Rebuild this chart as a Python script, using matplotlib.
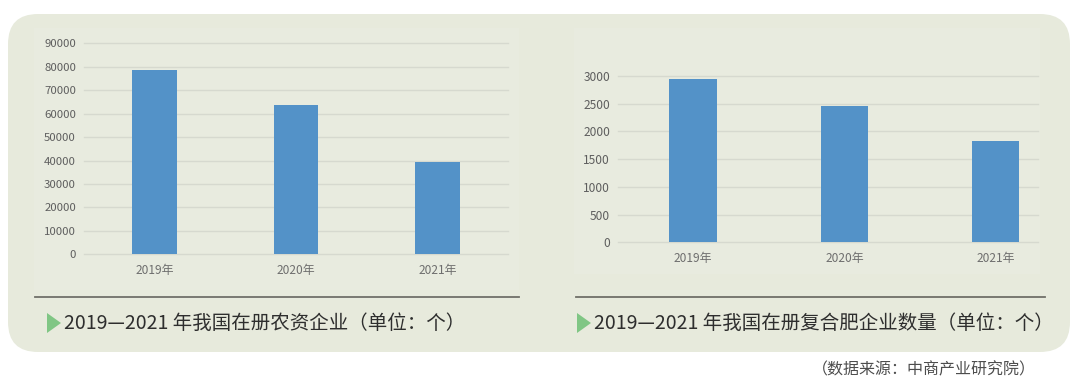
import matplotlib
matplotlib.use("Agg")
import matplotlib.pyplot as plt
from matplotlib.patches import FancyBboxPatch, Polygon, Rectangle
from matplotlib.lines import Line2D
from matplotlib.transforms import IdentityTransform

plt.rcParams['font.family'] = ['Noto Sans CJK SC', 'DejaVu Sans']

# data
years = ['2019年', '2020年', '2021年']
agri_firms = [78600, 63700, 39500]          # 在册农资企业
compound_firms = [2940, 2450, 1830]         # 在册复合肥企业
agri_ticks = [0, 10000, 20000, 30000, 40000, 50000, 60000, 70000, 80000, 90000]
compound_ticks = [0, 500, 1000, 1500, 2000, 2500, 3000]
left_title = '2019—2021 年我国在册农资企业（单位：个）'
right_title = '2019—2021 年我国在册复合肥企业数量（单位：个）'
source_note = '（数据来源：中商产业研究院）'

W, H = 1080, 391
BAR = '#5392C8'
GRID = '#D6D9CF'
PANEL = '#E7EADC'


def fx(x):
    return x / W


def fy(y):
    return 1 - y / H


fig = plt.figure(figsize=(W / 100, H / 100), dpi=100, facecolor='white')

# rounded background card (pixel coords, origin bottom-left)
card = FancyBboxPatch((8, H - 352), 1062, 338,
                      boxstyle='round,pad=0,rounding_size=30',
                      transform=IdentityTransform(),
                      facecolor=PANEL, edgecolor='none', zorder=-2)
fig.add_artist(card)

# faint inner chart panels
for x0, x1, y1 in [(34, 519, 290), (574, 1040, 274)]:
    fig.add_artist(Rectangle((fx(x0), fy(y1)), fx(x1) - fx(x0), fy(28) - fy(y1),
                             transform=fig.transFigure, facecolor='#E8EBDF',
                             edgecolor='none', zorder=-1))


def bar_panel(rect, values, ticks, xmax, tick_size, xpad, ypad):
    ax = fig.add_axes(rect)
    ax.set_zorder(2)
    ax.set_facecolor('none')
    ax.bar(range(len(years)), values, width=0.315, color=BAR, zorder=3)
    ax.set_xlim(-0.5, xmax)
    ax.set_ylim(ticks[0], ticks[-1])
    ax.set_yticks(ticks)
    ax.set_xticks(range(len(years)))
    ax.set_xticklabels(years)
    ax.grid(axis='y', color=GRID, linewidth=1.0, zorder=1)
    for gl in ax.get_ygridlines():
        gl.set_clip_on(False)
    for s in ax.spines.values():
        s.set_visible(False)
    ax.tick_params(axis='y', length=0, pad=ypad, labelsize=tick_size, labelcolor='#5e5e5e')
    ax.tick_params(axis='x', length=0, pad=xpad, labelsize=8.6, labelcolor='#6e6e6e')
    return ax


bar_panel([fx(84), fy(254.3), fx(508) - fx(84), fy(43.3) - fy(254.3)],
          agri_firms, agri_ticks, 2.5, 8.2, 7.0, 5.8)
bar_panel([fx(617.6), fy(242.3), fx(1038) - fx(617.6), fy(76) - fy(242.3)],
          compound_firms, compound_ticks, 2.28, 8.6, 7.0, 5.5)

# divider lines under the charts
for x0, x1 in [(35, 519), (576, 1045)]:
    fig.add_artist(Line2D([fx(x0), fx(x1)], [fy(296.5), fy(296.5)],
                          transform=fig.transFigure, color='#707068', linewidth=1.3))

# captions with green arrow
for tx, text in [(47, left_title), (577, right_title)]:
    tri = Polygon([(fx(tx), fy(313)), (fx(tx), fy(333)), (fx(tx + 14), fy(323))],
                  closed=True, transform=fig.transFigure,
                  facecolor='#80C684', edgecolor='none')
    fig.add_artist(tri)
    fig.text(fx(tx + 17), fy(323), text, fontsize=14, color='#2e2e2e',
             ha='left', va='center')

fig.text(fx(1036), fy(370), source_note, fontsize=11.5, color='#4d4d4d',
         ha='right', va='center')

fig.savefig('out.png', dpi=100, facecolor='white')
